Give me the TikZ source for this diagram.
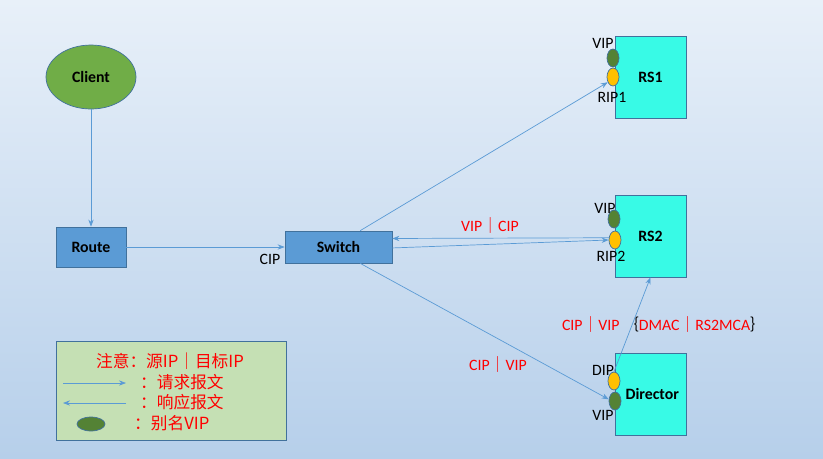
\documentclass[tikz,border=0pt]{standalone}
\usepackage{fontspec}
\setmainfont{Carlito}
\newfontfamily\cjk{Noto Sans CJK SC}
\usetikzlibrary{arrows.meta,shapes.geometric}
\definecolor{bgtop}{RGB}{232,240,249}
\definecolor{bgbot}{RGB}{182,207,234}
\definecolor{edge}{RGB}{65,113,156}
\definecolor{link}{RGB}{91,155,213}
\definecolor{boxblue}{RGB}{91,155,213}
\definecolor{cyanbox}{RGB}{56,250,230}
\definecolor{clientgreen}{RGB}{112,173,71}
\definecolor{vipgreen}{RGB}{84,130,53}
\definecolor{ripgold}{RGB}{255,192,0}
\definecolor{legendbg}{RGB}{197,224,180}
\tikzset{
  blk/.style={draw=edge,fill=boxblue,font=\fontsize{9}{10}\selectfont\bfseries},
  srv/.style={draw=edge,fill=cyanbox,minimum width=1.42cm,minimum height=1.64cm,font=\fontsize{9}{10}\selectfont\bfseries},
  vip/.style={ellipse,draw=edge,fill=vipgreen,minimum width=0.24cm,minimum height=0.36cm,inner sep=0pt},
  rip/.style={ellipse,draw=edge,fill=ripgold,minimum width=0.24cm,minimum height=0.36cm,inner sep=0pt},
  lbl/.style={font=\fontsize{9}{10}\selectfont},
  red/.style={text=red,font=\fontsize{9}{10}\selectfont},
  conn/.style={draw=link,-{Stealth[length=4pt,width=3pt]}}
}
\begin{document}
\begin{tikzpicture}[x=0.02cm,y=-0.02cm]

\shade [top color=bgtop,bottom color=bgbot] (0,0) rectangle (823,458);
\useasboundingbox (0,0) rectangle (823,458);

\node [ellipse,draw=edge,fill=clientgreen,minimum width=1.8cm,minimum height=1.28cm,font=\fontsize{9}{10}\selectfont\bfseries] (client) at (91,77) {Client};
\node [blk,minimum width=1.4cm,minimum height=0.8cm] (route) at (91,247) {Route};
\node [blk,minimum width=2.14cm,minimum height=0.64cm] (switch) at (338.5,247) {Switch};

\node [srv] (rs1) at (650.5,77) {RS1};
\node [srv] (rs2) at (650.5,236) {RS2};
\node [srv] (dir) at (650.5,394) {\hspace{2pt}Director};

\node [vip] (rs1vip) at (613,58) {};
\node [rip] (rs1rip) at (613,77) {};
\node [vip] (rs2vip) at (614,219) {};
\node [rip] (rs2rip) at (615,240) {};
\node [rip] (dirdip) at (614,381) {};
\node [vip] (dirvip) at (615,401) {};

\node [lbl] at (603,43) {VIP};
\node [lbl] at (612,97) {RIP1};
\node [lbl] at (605,208) {VIP};
\node [lbl] at (611,256) {RIP2};
\node [lbl] at (603,370) {DIP};
\node [lbl] at (603,415) {VIP};

\draw [conn] (client.south) -- (route.north);
\draw [conn] (route.east) -- (switch.west);
\node [lbl] at (270,259) {CIP};

\draw [conn] (switch.37) -- (rs1rip.225);
\draw [conn] (rs2rip.160) -- (switch.9);
\draw [conn] (switch.-1) -- (rs2rip.west);
\node [red] at (490,225) {VIP{\cjk ｜}CIP};

\draw [conn] (switch.-37) -- (dirvip.165);
\node [red] at (498,364) {CIP{\cjk ｜}VIP};

\draw [conn] (dirdip.north) -- (rs2.south);
\node [red] at (664,324) {CIP{\cjk ｜}VIP {\cjk\color{black}｛}DMAC{\cjk ｜}RS2MCA{\cjk\color{black}｝}};

% legend
\node [draw=edge,fill=legendbg,minimum width=4.6cm,minimum height=1.98cm] (legend) at (171,390.5) {};
\node [red,font=\fontsize{9.5}{10}\selectfont] at (170,361) {\cjk 注意：源IP｜目标IP};
\coordinate (req1) at (63,383);
\coordinate (req2) at (126,383);
\draw [conn] (req1) -- (req2);
\node [red,anchor=west,font=\fontsize{9.5}{10}\selectfont] at (134,382) {\cjk ：请求报文};
\coordinate (rsp1) at (126,403);
\coordinate (rsp2) at (63,403);
\draw [conn] (rsp1) -- (rsp2);
\node [red,anchor=west,font=\fontsize{9.5}{10}\selectfont] at (134,402) {\cjk ：响应报文};
\node [ellipse,draw=edge,fill=vipgreen,minimum width=0.56cm,minimum height=0.28cm,inner sep=0pt] (alias) at (91,424) {};
\node [red,anchor=west,font=\fontsize{9.5}{10}\selectfont] at (128,423) {\cjk ：别名VIP};

\end{tikzpicture}
\end{document}
